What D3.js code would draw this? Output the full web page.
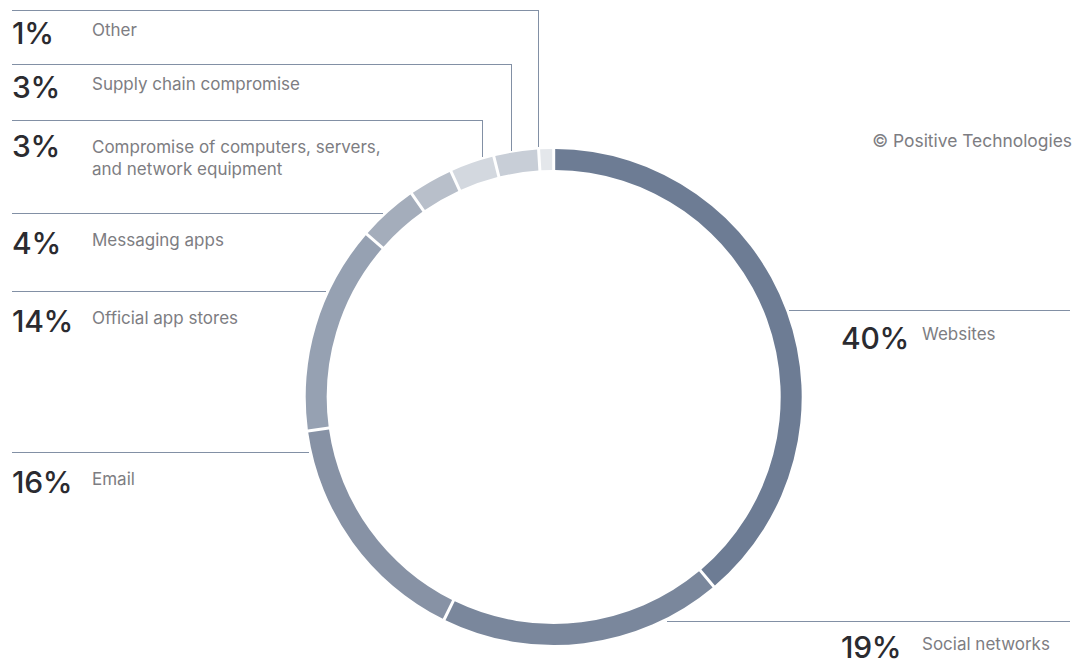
<!DOCTYPE html>
<html>
<head>
<meta charset="utf-8">
<script src="https://cdn.jsdelivr.net/npm/d3@7"></script>
<style>
  html, body { margin: 0; padding: 0; background: #ffffff; }
  svg { display: block; font-family: Inter, "Noto Sans", sans-serif; }
</style>
</head>
<body>
<svg id="chart" width="1089" height="664"></svg>
<script>
// Share of attack vectors (percent), drawn clockwise from 12 o'clock.
// One small slice carries no caption.
const categories = [
  "Websites",
  "Social networks",
  "Email",
  "Official app stores",
  "Messaging apps",
  "",
  "Compromise of computers, servers,\nand network equipment",
  "Supply chain compromise",
  "Other"
];
const values = [40, 19, 16, 14, 4, 3, 3, 3, 1];
const sliceColors = [
  "#6d7c94", "#7a879c", "#8792a5", "#96a1b2", "#a4adbb",
  "#b8bfca", "#d3d8df", "#c8ced7", "#e4e7eb"
];
const copyright = "© Positive Technologies";

// Leader placement for each caption (null = no caption).
// pct / lab: baseline offsets of the percentage and the caption below the leader.
const leaders = [
  { side: "right", y: 310,   pct: 39, lab: 30 },
  { side: "right", y: 621,   pct: 37, lab: 29 },
  { side: "left",  y: 451.7, pct: 41, lab: 33 },
  { side: "left",  y: 291.3, pct: 41, lab: 33 },
  { side: "left",  y: 212.7, pct: 41, lab: 33 },
  null,
  { side: "left",  y: 120, x: 482,   pct: 37, lab: 33 },
  { side: "left",  y: 64,  x: 510.5, pct: 34, lab: 26 },
  { side: "left",  y: 10,  x: 538,   pct: 34, lab: 26 }
];

const svg = d3.select("#chart");
const cx = 553.7, cy = 397;
const outerR = 248, innerR = 227, leaderR = outerR + 3;

const data = values.map((v, i) => ({ name: categories[i], value: v, color: sliceColors[i], lead: leaders[i] }));

const pie = d3.pie().sort(null).value(d => d.value).startAngle(0).endAngle(2 * Math.PI);
const arc = d3.arc()
  .innerRadius(innerR)
  .outerRadius(outerR)
  .padRadius(outerR)
  .padAngle(3 / outerR);

const ring = svg.append("g").attr("transform", `translate(${cx},${cy})`);
ring.selectAll("path")
  .data(pie(data))
  .join("path")
  .attr("d", arc)
  .attr("fill", d => d.data.color);

// Leader lines
const lineColor = "#8290a5";
const leadG = svg.append("g")
  .attr("fill", "none")
  .attr("stroke", lineColor)
  .attr("stroke-width", 1)
  .attr("shape-rendering", "crispEdges");

const leftX = 12, rightX = 1070;
data.forEach(d => {
  const L = d.lead;
  if (!L) return;
  let pts;
  if (L.x !== undefined) {
    const dx = L.x - cx;
    const yEnd = cy - Math.sqrt(leaderR * leaderR - dx * dx);
    pts = [[leftX, L.y], [L.x, L.y], [L.x, yEnd]];
  } else {
    const dy = L.y - cy;
    const half = Math.sqrt(leaderR * leaderR - dy * dy);
    pts = L.side === "left"
      ? [[leftX, L.y], [cx - half, L.y]]
      : [[cx + half, L.y], [rightX, L.y]];
  }
  leadG.append("path").attr("d", d3.line()(pts.map(p => [Math.round(p[0]), Math.round(p[1]) + 0.5])));
});

// Captions
const capG = svg.append("g");
data.forEach(d => {
  const L = d.lead;
  if (!L) return;
  const left = L.side === "left";
  const pctX = left ? 12 : 841;
  const labX = left ? 92 : 922;

  capG.append("text")
    .attr("x", pctX)
    .attr("y", L.y + L.pct)
    .attr("font-size", 30)
    .attr("font-weight", 500)
    .attr("fill", "#2b2b30")
    .attr("letter-spacing", "-0.3")
    .text(`${d.value}%`);

  const t = capG.append("text")
    .attr("x", labX)
    .attr("y", L.y + L.lab)
    .attr("font-size", 17)
    .attr("fill", "#7d7d82");
  d.name.split("\n").forEach((line, k) => {
    t.append("tspan")
      .attr("x", labX)
      .attr("dy", k === 0 ? 0 : 22)
      .text(line);
  });
});

svg.append("text")
  .attr("x", 1072)
  .attr("y", 147)
  .attr("text-anchor", "end")
  .attr("font-size", 17.4)
  .attr("fill", "#7d7d82")
  .text(copyright);
</script>
</body>
</html>
